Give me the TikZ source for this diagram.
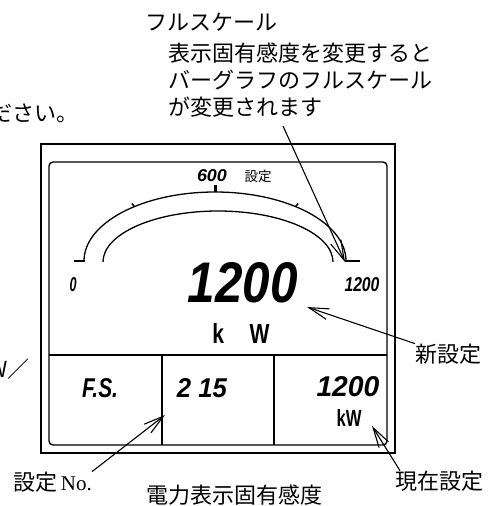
\documentclass[tikz,border=0pt]{standalone}
\usepackage{fontspec}
\usepackage{graphicx}
\newfontfamily\jpfont{Noto Sans CJK JP}
\newfontfamily\lcdfont{Liberation Sans}
\newfontfamily\latinpart{Liberation Serif}
\usetikzlibrary{arrows.meta, positioning}
\newcommand{\lcdtext}[3]{\resizebox{#1pt}{#2pt}{\lcdfont\bfseries\itshape #3}}
\newcommand{\unittext}[3]{\resizebox{#1pt}{#2pt}{\lcdfont\bfseries #3}}

\begin{document}
\begin{tikzpicture}[x=1pt, y=-1pt]
	% 样式
	\tikzset{
		frame/.style={line width=1.4pt},
		bar/.style={line width=1.3pt},
		callout/.style={
			line width=1.1pt,
			-{Straight Barb[length=20pt, width=11pt]}
		},
		jplabel/.style={font=\jpfont\fontsize{22}{27}\selectfont, inner sep=0pt},
		lcd/.style={inner sep=0pt}
	}
	\useasboundingbox (0,0) rectangle (488,506);
	
	% 表示器外框
	\draw[frame] (41,144) rectangle (395,453);
	\draw[frame, rounded corners=4pt] (49,162) rectangle (387,445);
	\draw[frame] (49,355) -- (387,355);
	\foreach \x in {162,274} {
		\draw[frame] (\x,355) -- (\x,445);
	}
	
	% 条形图刻度
	\draw[bar] (84,261) arc[start angle=180, end angle=360, x radius=131, y radius=69];
	\draw[line width=2.5pt] (74,261) -- (85,261);
	\draw[line width=2.5pt] (345,261) -- (360,261);
	\draw[line width=3pt] (215,192) -- (215,185);
	\foreach \a in {232,308} {
		\draw[line width=1.5pt] ({215+131*cos(\a)},{261+69*sin(\a)}) -- ({215+135*cos(\a)},{261+73*sin(\a)});
	}
	\draw[bar] (103,262) arc[start angle=180, end angle=360, x radius=115, y radius=51];
	
	% 显示数字
	\node[lcd] (scalemid) at (212,176) {\lcdtext{30}{12}{600}};
	\node[lcd, font=\jpfont\fontsize{13.5}{15}\selectfont] (midset) at (258,176) {設定};
	\node[lcd] (scalelow) at (73,285) {\lcdtext{7}{14}{0}};
	\node[lcd] (scalehigh) at (362,285) {\lcdtext{35}{14}{1200}};
	\node[lcd] (newval) at (243,283) {\lcdtext{110}{40}{1200}};
	\node[lcd] (newunit) at (241,333) {\unittext{57}{20}{k\hspace{1.2em}W}};
	\node[lcd] (fsmark) at (100,388) {\lcdtext{36}{19}{F.S.}};
	\node[lcd] (setno) at (202,388) {\lcdtext{50}{19}{2 15}};
	\node[lcd] (curval) at (348,387) {\lcdtext{63}{20}{1200}};
	\node[lcd] (curunit) at (349,418) {\unittext{25}{17}{kW}};
	
	% 说明文字
	\node[jplabel, anchor=west] (fstitle) at (145,22) {フルスケール};
	\node[jplabel, anchor=west] (fsline1) at (168,53) {表示固有感度を変更すると};
	\node[jplabel, anchor=west] (fsline2) at (168,80) {バーグラフのフルスケール};
	\node[jplabel, anchor=west] (fsline3) at (168,107) {が変更されます};
	\node[jplabel, anchor=east] (leftcut) at (79,113) {ださい。};
	\node[jplabel, anchor=east] (leftslash) at (30,369) {W／};
	\node[jplabel, anchor=west] (newlbl) at (415,354) {新設定};
	\node[jplabel, anchor=west] (nolbl) at (13,482) {設定\,{\latinpart\fontsize{21}{24}\selectfont No.}};
	\node[jplabel, anchor=west] (senslbl) at (146,495) {電力表示固有感度};
	\node[jplabel, anchor=west] (curlbl) at (395,481) {現在設定};
	
	% 箭头
	\coordinate (fstail) at (283,126);
	\coordinate (fshead) at (345,262);
	\coordinate (newtip) at (307,307);
	\coordinate (notip) at (165,415);
	\coordinate (curtip) at (372,426);
	\draw[callout] (fstail) -- (fshead);
	\draw[callout] (newlbl.north west) -- (newtip);
	\draw[callout] (nolbl.north east) -- (notip);
	\draw[callout] ([xshift=5pt]curlbl.north west) -- (curtip);
\end{tikzpicture}
\end{document}
